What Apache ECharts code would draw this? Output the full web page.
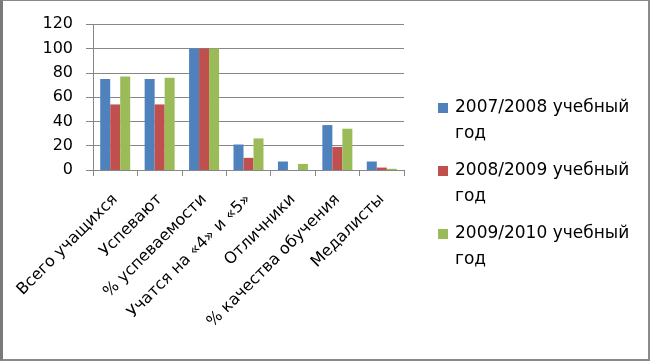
<!DOCTYPE html>
<html>
<head>
<meta charset="utf-8">
<script src="https://cdn.jsdelivr.net/npm/echarts@6/dist/echarts.min.js"></script>
<style>
html,body{margin:0;padding:0;background:#fff;}
#wrap{position:relative;width:650px;height:361px;}
#chart{position:absolute;left:0;top:0;width:650px;height:361px;}
#frame{position:absolute;left:0;top:0;width:650px;height:361px;box-sizing:border-box;
  border-top:1px solid #8a8a8a;border-left:3px solid #7a7a7a;border-right:2px solid #8a8a8a;border-bottom:2px solid #8a8a8a;pointer-events:none;}
</style>
</head>
<body>
<div id="wrap"><div id="chart"></div><div id="frame"></div></div>
<script>
var categories = ['Всего учащихся', 'Успевают', '% успеваемости', 'Учатся на «4» и «5»', 'Отличники', '% качества обучения', 'Медалисты'];
var seriesNames = ['2007/2008 учебный год', '2008/2009 учебный год', '2009/2010 учебный год'];
var values2007 = [75, 75, 100, 21, 7, 37, 7];
var values2008 = [54, 54, 100, 10, 0, 19, 2];
var values2009 = [77, 76, 100, 26, 5, 34, 1];
var yTicks = [0, 20, 40, 60, 80, 100, 120];

var colors = ['#4F81BD', '#C0504D', '#9BBB59'];
var FONT = 'DejaVu Sans';
var chart = echarts.init(document.getElementById('chart'), null, {renderer: 'canvas'});
var allValues = [values2007, values2008, values2009];
chart.setOption({
  animation: false,
  backgroundColor: '#fff',
  color: colors,
  grid: {left: 93, top: 24.3, right: 246, bottom: 191, containLabel: false},
  legend: {
    orient: 'vertical',
    left: 438,
    top: 69,
    padding: 0,
    itemWidth: 10,
    itemHeight: 10,
    itemGap: -15,
    icon: 'rect',
    data: seriesNames,
    formatter: function (n) { return '{s| }\n{t|' + n.replace(' год', '}\n{t|год}'); },
    textStyle: {
      fontFamily: FONT, fontSize: 17, color: '#000', lineHeight: 26,
      rich: {
        s: {fontFamily: FONT, fontSize: 17, lineHeight: 26, color: '#fff'},
        t: {fontFamily: FONT, fontSize: 17, lineHeight: 26, color: '#000', padding: [0, 0, 0, 2]}
      }
    }
  },
  xAxis: {
    type: 'category',
    data: categories,
    axisLine: {lineStyle: {color: '#878787', width: 1}},
    axisTick: {show: true, length: 6, alignWithLabel: false, lineStyle: {color: '#878787'}},
    axisLabel: {rotate: 45, interval: 0, margin: 27, fontFamily: FONT, fontSize: 16, color: '#000'},
    splitLine: {show: false}
  },
  yAxis: {
    type: 'value',
    min: yTicks[0],
    max: yTicks[yTicks.length - 1],
    interval: yTicks[1] - yTicks[0],
    axisLine: {show: true, lineStyle: {color: '#878787'}},
    axisTick: {show: true, length: 7, lineStyle: {color: '#878787'}},
    axisLabel: {margin: 20, fontFamily: FONT, fontSize: 16, color: '#000'},
    splitLine: {lineStyle: {color: '#878787', width: 1}}
  },
  series: seriesNames.map(function (n, i) {
    return {name: n, type: 'bar', data: allValues[i], barWidth: 10, barGap: '0%', itemStyle: {color: colors[i]}};
  })
});
</script>
</body>
</html>
